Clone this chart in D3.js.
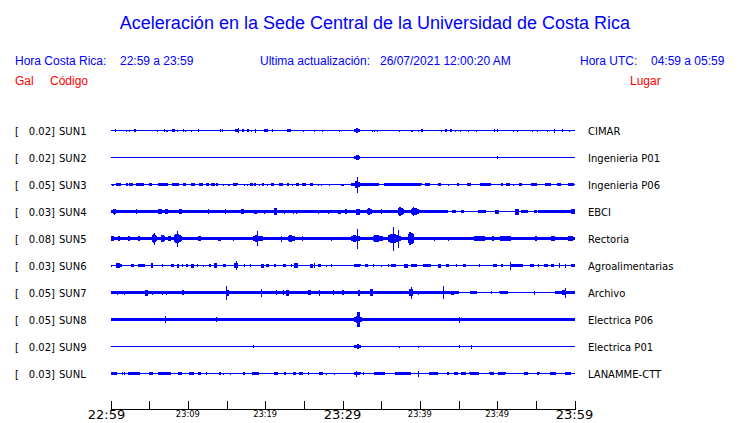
<!DOCTYPE html>
<html><head><meta charset="utf-8">
<script src="https://cdn.jsdelivr.net/npm/d3@7"></script>
<style>
html,body{margin:0;padding:0;background:#fff;}
svg{display:block;}
</style></head>
<body>
<svg id="c" width="740" height="423"></svg>
<script>
// ---------- DATA ----------
const codes = ["SUN1","SUN2","SUN3","SUN4","SUN5","SUN6","SUN7","SUN8","SUN9","SUNL"];
const galScale = ["0.02","0.02","0.05","0.03","0.08","0.03","0.05","0.05","0.02","0.03"];
const places = ["CIMAR","Ingenieria P01","Ingenieria P06","EBCI","Rectoria","Agroalimentarias","Archivo","Electrica P06","Electrica P01","LANAMME-CTT"];
const tickLabels = ["22:59","23:09","23:19","23:29","23:39","23:49","23:59"];
const bigLabels = ["22:59","23:29","23:59"];
// background noise level per station: [start min, end min, half amplitude]
const base_SUN1 = [[0,60,0.5]];
const base_SUN2 = [[0,60,0.5]];
const base_SUN3 = [[0,60,0.5]];
const base_SUN4 = [[0,43.6,1.5],[43.6,55.3,0.5],[55.3,60,1.5]];
const base_SUN5 = [[0,60,1.6]];
const base_SUN6 = [[0,60,0.5]];
const base_SUN7 = [[0,45,1.2],[45,57.5,0.7],[57.5,60,1.2]];
const base_SUN8 = [[0,60,1.6]];
const base_SUN9 = [[0,60,0.5]];
const base_SUNL = [[0,60,0.5]];
// events: [minute after 22:59, duration (min), half amplitude]
const ev_SUN1 = [[0.6,0.1,1.5],[2.0,0.1,1],[2.4,0.1,1],[3.0,0.3,1.5],[6.0,0.1,1],[6.9,0.1,1.5],[7.2,0.2,1],[8.0,0.3,1.5],[8.6,0.1,1],[9.4,0.1,1.5],[9.6,0.1,1],[10.4,0.1,1],[11.3,0.1,1.5],[14.1,0.1,1.5],[14.4,0.1,1.5],[16.1,0.5,1.5],[16.45,0.1,2.5],[17.0,0.3,1.3],[17.6,0.3,1.3],[18.2,0.1,1],[18.7,0.1,2],[19.9,0.55,1.5],[20.9,0.1,1.5],[22.8,0.5,1.5],[24.9,0.1,1],[26.3,0.1,1],[27.3,0.1,1],[29.6,0.1,1],[31.5,1.0,1.5],[31.8,0.2,2.5],[33.8,0.1,1],[34.1,0.1,1],[34.5,0.1,1],[37.3,0.1,1],[38.8,0.1,1],[39.0,0.1,1],[39.8,0.15,1],[40.2,0.2,1.3],[42.8,0.1,1],[43.2,0.3,1.2],[43.9,0.2,1.3],[44.5,0.1,1],[45.2,0.1,1],[46.2,0.1,1],[47.3,0.1,1],[49.6,0.1,1.3],[50.0,0.1,1.3],[52.0,0.1,1],[52.5,0.1,1],[54.5,0.1,1],[55.1,0.1,1],[56.4,0.1,1],[57.3,0.15,2],[58.4,0.1,1.3],[59.3,0.1,1]];
const ev_SUN2 = [[31.5,1.0,1.5],[31.8,0.3,2.5],[50.0,0.1,1.5]];
const ev_SUN3 = [[0.2,0.3,1],[0.65,1.15,1.3],[1.95,0.25,1.3],[2.45,0.5,1.3],[3.25,1.4,1.5],[4.9,0.8,1.3],[6.1,1.7,1.5],[7.9,1.3,1.5],[9.3,0.8,1.3],[10.35,0.9,1.3],[11.5,0.5,1.3],[12.3,0.5,1.3],[12.95,0.5,1.3],[13.7,0.15,1.3],[14.5,0.2,1],[15.2,0.2,1],[15.8,1.0,1.3],[17.2,0.15,1],[17.6,0.15,1],[18.0,0.4,1.3],[18.5,0.25,1.3],[19.2,0.1,1],[19.55,0.25,1.3],[20.2,0.1,1],[20.7,0.4,1.3],[21.75,0.5,1.3],[22.8,0.25,1.3],[23.45,0.1,1],[23.95,0.4,1.3],[24.75,0.5,1.3],[25.8,0.4,1.3],[26.8,0.1,1],[27.2,0.1,1],[28.2,0.1,1],[29.8,0.4,1],[30.0,0.6,1],[31.1,1.4,2],[31.6,0.6,4],[31.85,0.2,8],[32.5,2.9,1.5],[35.4,5.2,1.8],[40.55,1.15,1.3],[42.35,0.4,1.3],[43.65,0.1,1],[44.7,0.6,1.3],[46.0,0.9,1.3],[47.55,2.6,1.3],[50.5,0.3,1.3],[51.2,0.5,1.3],[52.0,0.2,1],[52.7,0.8,1.3],[54.4,0.9,1.5],[56.1,1.3,1.3],[57.65,1.0,1.3],[59.2,0.8,1.8]];
const ev_SUN4 = [[0.3,0.4,2.3],[0.45,0.1,3],[3.3,0.1,2.5],[6.2,0.5,2.5],[7.0,0.4,2.3],[8.8,0.6,3],[12.55,0.1,2.5],[14.8,0.1,2.5],[16.85,0.65,2.5],[18.5,0.5,2],[19.8,0.1,2],[21.1,0.4,3.3],[22.4,0.1,2],[23.6,0.1,2],[24.0,0.1,2],[26.8,0.1,2],[28.1,0.1,2],[29.4,0.4,2],[30.2,0.8,2.3],[31.8,0.4,3],[33.2,0.7,3.5],[35.0,0.1,2.3],[37.2,0.8,4.5],[38.9,1.0,4.3],[44.2,0.5,1.2],[45.3,0.4,1.2],[47.5,1.2,1.8],[49.7,0.5,2],[52.3,0.5,3],[53.1,0.9,2],[54.7,0.4,1.8],[59.5,0.5,2.5]];
const ev_SUN5 = [[0,0.6,3],[0.9,0.6,2.5],[2.2,0.6,2.5],[3.5,0.6,2.5],[4.3,0.9,2],[5.4,0.6,4.5],[5.6,0.2,6],[6.5,0.6,4],[7.4,0.6,3],[8.2,1.1,5],[8.6,0.1,8],[9.5,0.6,2],[11.0,1.5,2.3],[13.9,0.4,2],[15.8,0.1,2],[17.5,0.6,2],[18.4,1.4,3.5],[19.0,0.1,7.5],[22.0,0.1,3],[22.9,1.1,3.5],[24.6,0.6,2.3],[25.7,1.5,2],[28.5,0.1,2],[29.0,1.3,2],[31.1,1.3,3.5],[31.9,0.15,10],[33.9,1.3,4],[35.9,1.7,5],[36.5,0.1,12],[37.2,0.1,9],[38.5,0.8,7],[39.8,1.3,2],[41.8,0.1,2],[43.6,0.1,2],[47.0,1.8,3],[49.2,0.6,2.5],[50.3,2.0,3],[54.8,0.6,2.5],[56.7,1.6,2.3],[59.2,0.8,3]];
const ev_SUN6 = [[0.0,0.1,1],[0.65,0.9,2.5],[2.6,0.4,1.8],[3.6,0.9,1.8],[5.2,0.3,2.5],[6.7,0.1,1.3],[7.8,0.4,1.8],[8.55,0.3,2],[9.3,0.1,1.5],[9.7,0.3,1.5],[10.35,0.4,2],[11.2,0.1,1.3],[11.9,0.1,1],[12.7,0.3,1.5],[13.35,0.4,2.5],[14.6,0.3,1.5],[16.0,0.5,2.5],[16.2,0.1,4.5],[17.2,0.1,1.3],[18.0,0.1,1.3],[19.4,0.4,2],[20.1,0.6,1.5],[21.1,0.3,1.5],[22.3,0.4,1.5],[23.3,0.1,1.3],[23.7,0.5,2.3],[25.8,0.4,2],[26.3,0.1,2.5],[26.8,0.4,1.5],[27.85,0.1,1],[28.5,0.1,1.3],[31.5,0.9,1.8],[32.9,0.4,1.5],[33.9,0.1,1.3],[35.0,0.1,1],[35.9,0.1,1.3],[36.3,0.6,2],[38.0,0.5,2],[38.9,0.9,1.5],[40.4,1.0,2],[42.4,0.4,2],[43.4,0.4,1.5],[44.7,0.1,1.3],[45.6,0.4,1.5],[47.7,0.1,1.3],[49.5,0.6,1.5],[50.5,0.3,1.5],[51.6,0.6,1.8],[51.7,0.1,4],[52.2,1.3,1.8],[54.2,0.5,1.5],[55.3,0.1,1.3],[56.1,0.5,1.5],[57.0,0.4,1.5],[58.0,0.1,2.5],[58.8,0.1,2],[59.6,0.4,1.8]];
const ev_SUN7 = [[0,0.4,1.5],[0.8,0.1,2],[1.7,0.1,2],[2.8,0.1,1.5],[4.5,0.4,3],[5.4,0.1,2],[6.7,0.1,2],[7.2,0.1,2],[9.3,0.2,2.5],[14.9,0.4,3],[14.9,0.1,7],[19.4,0.1,4],[21.4,0.1,2.3],[22.3,0.1,2.5],[22.7,0.4,3],[25.5,0.4,2.5],[26.95,0.15,3],[28.8,0.1,2.5],[29.8,0.7,2.5],[32.0,0.2,3],[33.5,0.5,3.5],[36.7,0.1,1.5],[38.6,0.5,3.5],[38.9,0.1,6],[39.8,0.1,2],[41.1,0.1,1.5],[43.0,0.15,6.5],[44.0,0.4,2],[46.3,1.7,1.3],[49.2,0.1,1.8],[50.1,2.1,1.3],[54.8,0.1,2],[58.3,0.9,2.5],[58.8,0.1,5]];
const ev_SUN8 = [[7.0,0.1,3.5],[13.6,0.1,2.5],[31.5,1.2,3.5],[31.9,0.3,7.5],[45.1,0.1,3]];
const ev_SUN9 = [[18.4,0.1,1.5],[31.5,0.9,2],[31.9,0.2,2.5],[37.3,0.1,1],[39.8,0.1,1],[45.1,0.1,1.3],[46.6,0.1,2]];
const ev_SUNL = [[0,1.1,1.5],[1.5,0.1,1.3],[1.8,0.1,1.3],[2.2,2.1,1.5],[4.9,0.9,1.3],[6.1,2.3,1.5],[8.7,0.8,1.3],[10.2,0.8,1.5],[11.3,0.6,1.3],[12.3,0.1,1.3],[14.0,0.3,1.5],[14.6,0.1,1],[15.5,0.1,1],[17.1,0.3,1.3],[18.3,0.9,2],[21.1,0.5,1.5],[22.4,0.3,1.5],[23.6,0.4,1.3],[24.4,0.6,1.5],[25.5,0.15,1.3],[27.0,0.5,1.5],[27.85,0.1,1],[28.9,0.1,1],[31.5,0.9,1.8],[31.75,0.1,3],[32.6,0.1,1.3],[34.1,1.9,1.5],[36.7,2.8,1.5],[39.8,0.1,3],[41.2,1.3,1.8],[43.4,0.6,1.3],[44.4,0.5,1.3],[45.3,0.9,1.5],[46.4,1.6,1.5],[49.0,0.7,1.5],[49.9,1.9,1.3],[53.5,0.6,1.5],[55.1,0.6,1.3],[56.7,1.5,1.3],[58.7,1.3,1.3]];

const bases = [base_SUN1,base_SUN2,base_SUN3,base_SUN4,base_SUN5,base_SUN6,base_SUN7,base_SUN8,base_SUN9,base_SUNL];
const events = [ev_SUN1,ev_SUN2,ev_SUN3,ev_SUN4,ev_SUN5,ev_SUN6,ev_SUN7,ev_SUN8,ev_SUN9,ev_SUNL];

// ---------- DRAW ----------
const BLUE = "#0000ff", RED = "#ff0000";
const svg = d3.select("#c");
const HF = "'Liberation Sans', Arial, sans-serif";
const DF = "'DejaVu Sans', sans-serif";

svg.append("text").attr("x",375).attr("y",29).attr("text-anchor","middle")
  .attr("font-family",HF).attr("font-size",18).attr("fill",BLUE)
  .text("Aceleración en la Sede Central de la Universidad de Costa Rica");

const hdr = [[15,"Hora Costa Rica:"],[120,"22:59 a 23:59"],[260,"Ultima actualización:"],[380,"26/07/2021 12:00:20 AM"],[580,"Hora UTC:"],[651,"04:59 a 05:59"]];
svg.selectAll("text.hdr").data(hdr).join("text").attr("class","hdr")
  .attr("x",d=>d[0]).attr("y",65).attr("font-family",HF).attr("font-size",12).attr("fill",BLUE).text(d=>d[1]);
const hdr2 = [[15,"Gal"],[50,"Código"],[630,"Lugar"]];
svg.selectAll("text.hdr2").data(hdr2).join("text").attr("class","hdr2")
  .attr("x",d=>d[0]).attr("y",85).attr("font-family",HF).attr("font-size",12).attr("fill",RED).text(d=>d[1]);

const x = d3.scaleLinear().domain([0,60]).range([110.5,574.5]);
const row = d3.scaleBand().domain(codes).range([117,387]);
const amp = d3.scaleLinear().domain([-13.5,13.5]).range([13.5,-13.5]);

// envelope shape of a burst: quick rise, slower decay
function burst(d){
  const x0 = x(d[0]), x1 = Math.max(x0+1, x(d[0]+d[1]));
  const w = x1 - x0;
  if (w < 4) return `M${x0},${amp(d[2])}H${x1}V${amp(-d[2])}H${x0}Z`;
  const xp = x0 + w*0.3;
  const a = d[2], s = a*0.65, e = a*0.5;
  return `M${x0},${amp(s)}L${xp},${amp(a)}L${x1},${amp(e)}L${x1},${amp(-e)}L${xp},${amp(-a)}L${x0},${amp(-s)}Z`;
}

codes.forEach((c,i)=>{
  const cy = row(c) + row.bandwidth()/2;
  const g = svg.append("g").attr("transform",`translate(0,${cy})`);
  g.append("text").attr("x",15).attr("y",4).attr("font-family",DF).attr("font-size",10).attr("fill","#000").text("[");
  g.append("text").attr("x",55).attr("y",4).attr("text-anchor","end").attr("font-family",DF).attr("font-size",10).attr("fill","#000").text(galScale[i]+"]");
  g.append("text").attr("x",59).attr("y",4).attr("font-family",DF).attr("font-size",10).attr("fill","#000").text(c);
  g.append("text").attr("x",588).attr("y",4).attr("font-family",DF).attr("font-size",10).attr("fill","#000").text(places[i]);
  const tr = g.append("g").attr("fill",BLUE).attr("shape-rendering","crispEdges");
  tr.selectAll("rect.b").data(bases[i]).join("rect").attr("class","b")
    .attr("x",d=>x(d[0])).attr("width",d=>x(d[1])-x(d[0]))
    .attr("y",d=>amp(d[2])).attr("height",d=>amp(-d[2])-amp(d[2]));
  tr.selectAll("path.e").data(events[i]).join("path").attr("class","e").attr("d",burst);
});

// time axis
const ax = svg.append("g").attr("shape-rendering","crispEdges");
ax.append("line").attr("x1",x(0)).attr("x2",x(60)).attr("y1",409.5).attr("y2",409.5).attr("stroke","#000");
const ticks = d3.range(0,61,5);
ax.selectAll("line.t").data(ticks).join("line").attr("class","t")
  .attr("x1",d=>Math.round(x(d))+0.5).attr("x2",d=>Math.round(x(d))+0.5).attr("y1",401).attr("y2",409.5).attr("stroke","#000");
svg.selectAll("text.tl").data(tickLabels).join("text").attr("class","tl")
  .attr("x",(d,i)=>x(i*10) - (i===0?4:0)).attr("y",d=>bigLabels.includes(d)?418.5:416.5)
  .attr("text-anchor","middle").attr("font-family",DF)
  .attr("font-size",d=>bigLabels.includes(d)?13:8.3).attr("fill","#000").text(d=>d);
</script>
</body></html>
